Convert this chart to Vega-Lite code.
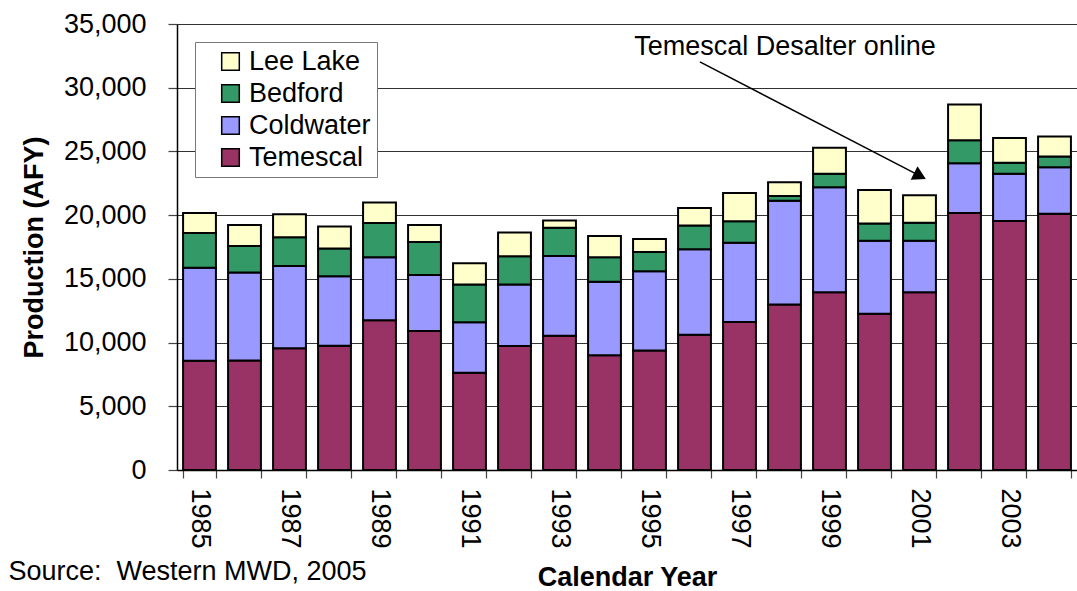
{
  "$schema": "https://vega.github.io/schema/vega-lite/v6.json",
  "width": 900,
  "height": 446,
  "autosize": {"type": "none"},
  "padding": {"left": 177, "top": 24, "right": 0, "bottom": 121},
  "background": "white",
  "title": {
    "text": "Source:\u00a0 Western MWD, 2005",
    "orient": "bottom",
    "anchor": "start",
    "frame": "bounds",
    "font": "Liberation Sans",
    "fontSize": 27,
    "fontWeight": "normal",
    "color": "black",
    "dx": -12,
    "dy": -35
  },
  "config": {
    "view": {"stroke": null},
    "font": "Liberation Sans",
    "axis": {
      "labelFont": "Liberation Sans",
      "titleFont": "Liberation Sans",
      "labelFontSize": 27,
      "titleFontSize": 27,
      "labelColor": "black",
      "titleColor": "black",
      "titleFontWeight": "bold",
      "domainColor": "black",
      "domainWidth": 1.5,
      "tickColor": "#444",
      "tickWidth": 1.2
    },
    "legend": {
      "labelFont": "Liberation Sans",
      "labelFontSize": 27,
      "labelColor": "black"
    }
  },
  "datasets": {
    "production": [
      {"year": 1985, "source": "Temescal", "rank": 1, "afy": 8580},
      {"year": 1985, "source": "Coldwater", "rank": 2, "afy": 7300},
      {"year": 1985, "source": "Bedford", "rank": 3, "afy": 2720},
      {"year": 1985, "source": "Lee Lake", "rank": 4, "afy": 1570},
      {"year": 1986, "source": "Temescal", "rank": 1, "afy": 8600},
      {"year": 1986, "source": "Coldwater", "rank": 2, "afy": 6890},
      {"year": 1986, "source": "Bedford", "rank": 3, "afy": 2090},
      {"year": 1986, "source": "Lee Lake", "rank": 4, "afy": 1650},
      {"year": 1987, "source": "Temescal", "rank": 1, "afy": 9550},
      {"year": 1987, "source": "Coldwater", "rank": 2, "afy": 6460},
      {"year": 1987, "source": "Bedford", "rank": 3, "afy": 2250},
      {"year": 1987, "source": "Lee Lake", "rank": 4, "afy": 1810},
      {"year": 1988, "source": "Temescal", "rank": 1, "afy": 9760},
      {"year": 1988, "source": "Coldwater", "rank": 2, "afy": 5440},
      {"year": 1988, "source": "Bedford", "rank": 3, "afy": 2180},
      {"year": 1988, "source": "Lee Lake", "rank": 4, "afy": 1720},
      {"year": 1989, "source": "Temescal", "rank": 1, "afy": 11750},
      {"year": 1989, "source": "Coldwater", "rank": 2, "afy": 4940},
      {"year": 1989, "source": "Bedford", "rank": 3, "afy": 2700},
      {"year": 1989, "source": "Lee Lake", "rank": 4, "afy": 1600},
      {"year": 1990, "source": "Temescal", "rank": 1, "afy": 10910},
      {"year": 1990, "source": "Coldwater", "rank": 2, "afy": 4400},
      {"year": 1990, "source": "Bedford", "rank": 3, "afy": 2590},
      {"year": 1990, "source": "Lee Lake", "rank": 4, "afy": 1330},
      {"year": 1991, "source": "Temescal", "rank": 1, "afy": 7640},
      {"year": 1991, "source": "Coldwater", "rank": 2, "afy": 3950},
      {"year": 1991, "source": "Bedford", "rank": 3, "afy": 2960},
      {"year": 1991, "source": "Lee Lake", "rank": 4, "afy": 1670},
      {"year": 1992, "source": "Temescal", "rank": 1, "afy": 9730},
      {"year": 1992, "source": "Coldwater", "rank": 2, "afy": 4820},
      {"year": 1992, "source": "Bedford", "rank": 3, "afy": 2220},
      {"year": 1992, "source": "Lee Lake", "rank": 4, "afy": 1860},
      {"year": 1993, "source": "Temescal", "rank": 1, "afy": 10540},
      {"year": 1993, "source": "Coldwater", "rank": 2, "afy": 6260},
      {"year": 1993, "source": "Bedford", "rank": 3, "afy": 2220},
      {"year": 1993, "source": "Lee Lake", "rank": 4, "afy": 550},
      {"year": 1994, "source": "Temescal", "rank": 1, "afy": 9000},
      {"year": 1994, "source": "Coldwater", "rank": 2, "afy": 5780},
      {"year": 1994, "source": "Bedford", "rank": 3, "afy": 1910},
      {"year": 1994, "source": "Lee Lake", "rank": 4, "afy": 1680},
      {"year": 1995, "source": "Temescal", "rank": 1, "afy": 9370},
      {"year": 1995, "source": "Coldwater", "rank": 2, "afy": 6230},
      {"year": 1995, "source": "Bedford", "rank": 3, "afy": 1510},
      {"year": 1995, "source": "Lee Lake", "rank": 4, "afy": 1020},
      {"year": 1996, "source": "Temescal", "rank": 1, "afy": 10620},
      {"year": 1996, "source": "Coldwater", "rank": 2, "afy": 6700},
      {"year": 1996, "source": "Bedford", "rank": 3, "afy": 1860},
      {"year": 1996, "source": "Lee Lake", "rank": 4, "afy": 1390},
      {"year": 1997, "source": "Temescal", "rank": 1, "afy": 11620},
      {"year": 1997, "source": "Coldwater", "rank": 2, "afy": 6220},
      {"year": 1997, "source": "Bedford", "rank": 3, "afy": 1680},
      {"year": 1997, "source": "Lee Lake", "rank": 4, "afy": 2220},
      {"year": 1998, "source": "Temescal", "rank": 1, "afy": 12980},
      {"year": 1998, "source": "Coldwater", "rank": 2, "afy": 8140},
      {"year": 1998, "source": "Bedford", "rank": 3, "afy": 390},
      {"year": 1998, "source": "Lee Lake", "rank": 4, "afy": 1070},
      {"year": 1999, "source": "Temescal", "rank": 1, "afy": 13950},
      {"year": 1999, "source": "Coldwater", "rank": 2, "afy": 8240},
      {"year": 1999, "source": "Bedford", "rank": 3, "afy": 1050},
      {"year": 1999, "source": "Lee Lake", "rank": 4, "afy": 2040},
      {"year": 2000, "source": "Temescal", "rank": 1, "afy": 12270},
      {"year": 2000, "source": "Coldwater", "rank": 2, "afy": 5730},
      {"year": 2000, "source": "Bedford", "rank": 3, "afy": 1340},
      {"year": 2000, "source": "Lee Lake", "rank": 4, "afy": 2640},
      {"year": 2001, "source": "Temescal", "rank": 1, "afy": 13950},
      {"year": 2001, "source": "Coldwater", "rank": 2, "afy": 4050},
      {"year": 2001, "source": "Bedford", "rank": 3, "afy": 1410},
      {"year": 2001, "source": "Lee Lake", "rank": 4, "afy": 2150},
      {"year": 2002, "source": "Temescal", "rank": 1, "afy": 20170},
      {"year": 2002, "source": "Coldwater", "rank": 2, "afy": 3900},
      {"year": 2002, "source": "Bedford", "rank": 3, "afy": 1810},
      {"year": 2002, "source": "Lee Lake", "rank": 4, "afy": 2800},
      {"year": 2003, "source": "Temescal", "rank": 1, "afy": 19550},
      {"year": 2003, "source": "Coldwater", "rank": 2, "afy": 3690},
      {"year": 2003, "source": "Bedford", "rank": 3, "afy": 880},
      {"year": 2003, "source": "Lee Lake", "rank": 4, "afy": 1940},
      {"year": 2004, "source": "Temescal", "rank": 1, "afy": 20100},
      {"year": 2004, "source": "Coldwater", "rank": 2, "afy": 3660},
      {"year": 2004, "source": "Bedford", "rank": 3, "afy": 840},
      {"year": 2004, "source": "Lee Lake", "rank": 4, "afy": 1570}
    ],
    "arrow": [{"x": 1996.12, "y": 32030, "x2": 2001.01, "y2": 23080}],
    "arrowhead": [{"x": 2001.01, "y": 23080}],
    "note": [{"x": 1998.01, "y": 33200, "label": "Temescal Desalter online"}]
  },
  "layer": [
    {
      "data": {"name": "production"},
      "mark": {"type": "bar", "stroke": "black", "strokeWidth": 2},
      "encoding": {
        "x": {
          "field": "year",
          "type": "ordinal",
          "scale": {"paddingInner": 0.27, "paddingOuter": 0.135},
          "axis": {
            "title": "Calendar Year",
            "labelAngle": 90,
            "labelExpr": "datum.value % 2 == 1 ? datum.label : ''",
            "tickBand": "extent",
            "tickSize": 8,
            "labelPadding": 10,
            "titlePadding": 16,
            "grid": false
          }
        },
        "y": {
          "field": "afy",
          "type": "quantitative",
          "stack": "zero",
          "scale": {"domain": [0, 35000], "nice": false},
          "axis": {
            "title": "Production (AFY)",
            "values": [0, 5000, 10000, 15000, 20000, 25000, 30000, 35000],
            "format": ",d",
            "grid": true,
            "gridColor": "#333",
            "gridWidth": 1,
            "gridOpacity": 1,
            "tickSize": 9,
            "labelPadding": 22,
            "titlePadding": 15
          }
        },
        "color": {
          "field": "source",
          "type": "nominal",
          "scale": {
            "domain": ["Lee Lake", "Bedford", "Coldwater", "Temescal"],
            "range": ["#FFFFCC", "#339966", "#9999FF", "#993366"]
          },
          "legend": {
            "title": null,
            "orient": "top-left",
            "offset": 18,
            "padding": 6,
            "rowPadding": 4,
            "symbolType": "square",
            "symbolSize": 310,
            "symbolStrokeColor": "black",
            "symbolStrokeWidth": 1.5,
            "symbolOffset": 16,
            "labelOffset": 5,
            "strokeColor": "#777",
            "fillColor": "white"
          }
        },
        "order": {"field": "rank", "type": "quantitative", "sort": "ascending"}
      }
    },
    {
      "layer": [
        {
          "data": {"name": "arrow"},
          "mark": {"type": "rule", "color": "black", "strokeWidth": 1.5},
          "encoding": {
            "x": {"field": "x", "type": "quantitative", "scale": {"domain": [1984.5, 2004.5], "nice": false, "zero": false}, "axis": null},
            "x2": {"field": "x2"},
            "y": {"field": "y", "type": "quantitative"},
            "y2": {"field": "y2"}
          }
        },
        {
          "data": {"name": "arrowhead"},
          "mark": {"type": "point", "shape": "triangle-right", "filled": true, "color": "black", "size": 230, "angle": 27, "opacity": 1},
          "encoding": {
            "x": {"field": "x", "type": "quantitative", "axis": null},
            "y": {"field": "y", "type": "quantitative"}
          }
        },
        {
          "data": {"name": "note"},
          "mark": {"type": "text", "font": "Liberation Sans", "fontSize": 27, "color": "black", "align": "center", "baseline": "middle"},
          "encoding": {
            "x": {"field": "x", "type": "quantitative", "axis": null},
            "y": {"field": "y", "type": "quantitative"},
            "text": {"field": "label"}
          }
        }
      ]
    }
  ],
  "resolve": {"scale": {"x": "independent"}}
}
